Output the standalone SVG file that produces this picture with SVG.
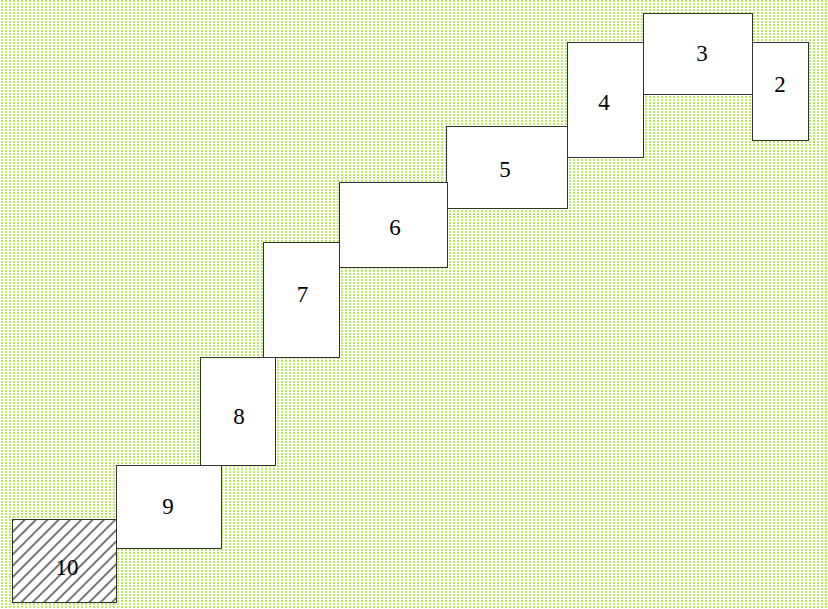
<svg xmlns="http://www.w3.org/2000/svg" width="828" height="609" viewBox="0 0 828 609">
<defs>
<pattern id="dots" width="4" height="3" patternUnits="userSpaceOnUse">
<rect x="0" y="0" width="4" height="3" fill="#ffffff"/>
<rect x="1" y="0" width="2" height="2" fill="#b8ee5e"/>
</pattern>
<pattern id="hatch" width="8" height="8" patternUnits="userSpaceOnUse" patternTransform="rotate(45)">
<rect x="0" y="0" width="8" height="8" fill="#ffffff"/>
<rect x="0" y="0" width="2" height="8" fill="#777777"/>
</pattern>
<style>
.box{fill:#ffffff;stroke:#333333;stroke-width:1}
.hat{fill:url(#hatch);stroke:#333333;stroke-width:1}
.lbl{font-family:"Liberation Serif","Times New Roman",serif;font-size:23px;fill:#000000;text-anchor:middle}
</style>
</defs>
<rect x="0" y="0" width="828" height="609" fill="url(#dots)"/>
<g id="connectors"></g>
<g id="node2"><rect class="box" x="752.5" y="42.5" width="56" height="98"/><text class="lbl" x="780" y="92">2</text></g>
<g id="node3"><rect class="box" x="643.5" y="13.5" width="109" height="81"/><text class="lbl" x="702" y="61">3</text></g>
<g id="node4"><rect class="box" x="567.5" y="42.5" width="76" height="115"/><text class="lbl" x="604" y="110">4</text></g>
<g id="node5"><rect class="box" x="446.5" y="126.5" width="121" height="82"/><text class="lbl" x="505" y="177">5</text></g>
<g id="node6"><rect class="box" x="339.5" y="182.5" width="108" height="85"/><text class="lbl" x="395" y="234.5">6</text></g>
<g id="node7"><rect class="box" x="263.5" y="242.5" width="76" height="115"/><text class="lbl" x="302.5" y="302">7</text></g>
<g id="node8"><rect class="box" x="200.5" y="357.5" width="75" height="108"/><text class="lbl" x="239" y="424">8</text></g>
<g id="node9"><rect class="box" x="116.5" y="465.5" width="105" height="83"/><text class="lbl" x="168" y="514">9</text></g>
<g id="node10"><rect class="hat" x="12.5" y="519.5" width="104" height="83"/><text class="lbl" x="67" y="574.5">10</text></g>
</svg>
